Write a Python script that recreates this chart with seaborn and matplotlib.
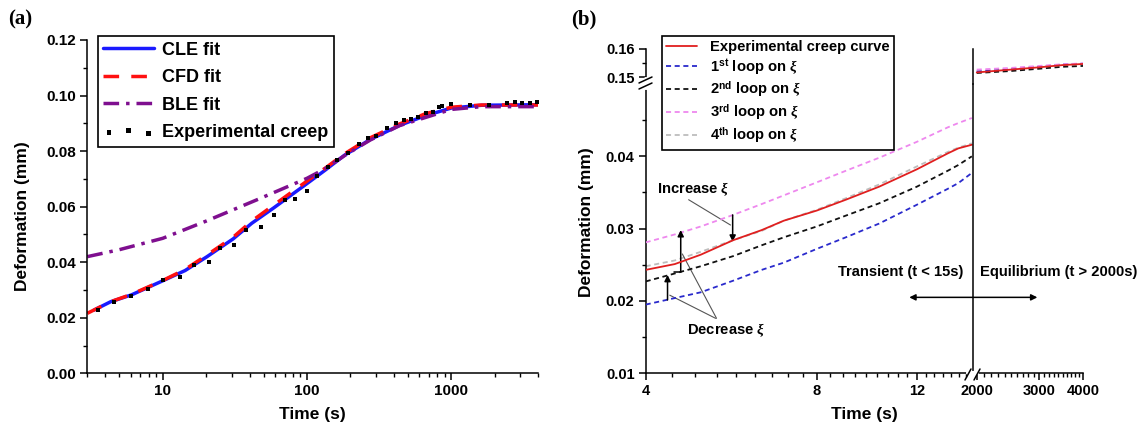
import matplotlib
matplotlib.use("Agg")
import matplotlib.pyplot as plt
from matplotlib.lines import Line2D
from matplotlib.patches import ConnectionPatch
from matplotlib.ticker import (FixedLocator, FixedFormatter, NullFormatter,
                               MultipleLocator, FormatStrFormatter, LogLocator)
import numpy as np
import seaborn as sns

# ---------------- panel (a): model fits of the creep curve ----------------
time_cle = [3.35, 4.37, 6.05, 10, 14.3, 20.3, 30.8, 41.4, 59, 100, 135, 182, 275, 440, 667, 1000, 1620, 4000]
def_cle = [0.0228, 0.0258, 0.0282, 0.0333, 0.0370, 0.0420, 0.0484, 0.0540, 0.0596, 0.0683, 0.0733,
           0.0785, 0.0842, 0.0893, 0.0928, 0.0955, 0.0965, 0.0967]

time_cfd = [3.0, 4.37, 6.05, 10, 14.3, 20.3, 30.8, 41.4, 59, 100, 135, 182, 275, 440, 667, 1000, 1620, 4000]
def_cfd = [0.0216, 0.0258, 0.0284, 0.0334, 0.0374, 0.0426, 0.0490, 0.0548, 0.0606, 0.0692, 0.0740,
           0.0790, 0.0848, 0.0898, 0.0935, 0.0958, 0.0966, 0.0966]

time_ble = [3.0, 5, 10, 20, 46.6, 100, 135, 190, 275, 440, 1000, 1620, 4000]
def_ble = [0.0420, 0.0445, 0.0486, 0.0548, 0.0628, 0.0702, 0.0738, 0.0790, 0.0840, 0.0892, 0.0950,
           0.0960, 0.0960]

time_exp = [3.55, 4.63, 6.05, 7.9, 10, 13.1, 16.5, 21, 25, 31, 38, 48, 59, 70, 82, 100, 117, 140,
            161, 193, 228, 267, 300, 358, 415, 470, 527, 593, 667, 750, 820, 870, 1000, 1360,
            1830, 2450, 2760, 3100, 3500, 3950]
def_exp = [0.0228, 0.0258, 0.0278, 0.0302, 0.0336, 0.0346, 0.0390, 0.0402, 0.0450, 0.0462, 0.0516,
           0.0528, 0.0570, 0.0624, 0.0626, 0.0658, 0.0710, 0.0742, 0.0768, 0.0792, 0.0826, 0.0846,
           0.0854, 0.0882, 0.0902, 0.0912, 0.0916, 0.0922, 0.0938, 0.0942, 0.0960, 0.0962, 0.0970,
           0.0966, 0.0966, 0.0974, 0.0978, 0.0972, 0.0974, 0.0976]

# ---------------- panel (b): iterations on xi ----------------
time_transient = [4.0, 4.5, 5.0, 5.7, 6.4, 7.0, 8.0, 9.0, 10.3, 12.0, 13.6, 14.2, 15.0]
exp_transient = [0.0243, 0.0251, 0.0264, 0.0284, 0.0298, 0.0311, 0.0325, 0.0340, 0.0358, 0.0382,
                 0.0404, 0.0411, 0.0416]
loop1_transient = [0.0195, 0.0204, 0.0212, 0.0228, 0.0243, 0.0253, 0.0272, 0.0288, 0.0307, 0.0333,
                   0.0355, 0.0363, 0.0377]
loop2_transient = [0.0227, 0.0238, 0.0248, 0.0262, 0.0277, 0.0288, 0.0303, 0.0318, 0.0335, 0.0358,
                   0.0380, 0.0388, 0.0400]
loop3_transient = [0.0281, 0.0292, 0.0303, 0.0319, 0.0334, 0.0346, 0.0364, 0.0380, 0.0398, 0.0420,
                   0.0440, 0.0446, 0.0453]
loop4_transient = [0.0248, 0.0256, 0.0268, 0.0284, 0.0297, 0.0311, 0.0326, 0.0342, 0.0361, 0.0386,
                   0.0406, 0.0412, 0.0418]

time_equilibrium = [2000, 2500, 3000, 3500, 4000]
exp_equilibrium = [0.1517, 0.1527, 0.1535, 0.1543, 0.1547]
loop1_equilibrium = [0.1520, 0.1528, 0.1537, 0.1545, 0.1548]
loop2_equilibrium = [0.1515, 0.1522, 0.1530, 0.1537, 0.1540]
loop3_equilibrium = [0.1527, 0.1533, 0.1540, 0.1546, 0.1549]
loop4_equilibrium = [0.1522, 0.1530, 0.1537, 0.1544, 0.1547]

loop_labels = ['Experimental creep curve',
               r'1$^{\mathrm{st}}$ loop on $\xi$',
               r'2$^{\mathrm{nd}}$ loop on $\xi$',
               r'3$^{\mathrm{rd}}$ loop on $\xi$',
               r'4$^{\mathrm{th}}$ loop on $\xi$']

# ---------------- style ----------------
sns.set_theme(style="ticks")
plt.rcParams.update({
    'font.weight': 'bold',
    'axes.labelweight': 'bold',
    'text.color': 'black',
    'axes.labelcolor': 'black',
    'axes.edgecolor': 'black',
    'xtick.color': 'black',
    'ytick.color': 'black',
    'axes.linewidth': 1.1,
    'mathtext.fontset': 'custom',
    'mathtext.rm': 'Liberation Sans:bold',
    'mathtext.bf': 'Liberation Sans:bold',
    'mathtext.it': 'Liberation Serif:italic',
})
plt.rcParams['font.family'] = ['Liberation Sans', 'DejaVu Sans']

W, H = 1147, 430
fig = plt.figure(figsize=(W / 100, H / 100), dpi=100)


def fx(px):
    return px / W


def fy(py):
    return 1 - py / H


def tick_style(ax, size):
    ax.tick_params(which='major', direction='out', length=5, width=1.1, labelsize=size, pad=3)
    ax.tick_params(which='minor', direction='out', length=3, width=1.0)


# ---------------- panel (a) ----------------
ax_a = fig.add_axes([fx(87.3), fy(373.3), fx(538) - fx(87.3), fy(40) - fy(373.3)])
ax_a.set_xscale('log')
sns.lineplot(x=time_cle, y=def_cle, ax=ax_a, color='#1a1aff', linewidth=2.5,
             label='CLE fit', legend=False)
sns.lineplot(x=time_cfd, y=def_cfd, ax=ax_a, color='#ff1010', linewidth=2.5,
             linestyle=(0, (4.5, 3.5)), label='CFD fit', legend=False)
sns.lineplot(x=time_ble, y=def_ble, ax=ax_a, color='#7f0f8f', linewidth=2.5,
             linestyle=(0, (4.5, 2, 1, 2)), label='BLE fit', legend=False)
sns.scatterplot(x=time_exp, y=def_exp, ax=ax_a, marker='s', s=7, color='black',
                linewidth=0, label='Experimental creep', legend=False, zorder=4)

ax_a.set_xlim(3, 4000)
ax_a.set_ylim(0, 0.12)
ax_a.xaxis.set_major_locator(FixedLocator([10, 100, 1000]))
ax_a.xaxis.set_major_formatter(FixedFormatter(['10', '100', '1000']))
ax_a.xaxis.set_minor_locator(LogLocator(base=10, subs=np.arange(2, 10)))
ax_a.xaxis.set_minor_formatter(NullFormatter())
ax_a.yaxis.set_major_locator(MultipleLocator(0.02))
ax_a.yaxis.set_minor_locator(MultipleLocator(0.01))
ax_a.yaxis.set_major_formatter(FormatStrFormatter('%.2f'))
ax_a.set_xlabel('')
ax_a.set_ylabel('')
tick_style(ax_a, 11)
sns.despine(ax=ax_a)

leg_a = ax_a.legend(loc='upper left', bbox_to_anchor=(fx(97.7), fy(36)),
                    bbox_transform=fig.transFigure, borderaxespad=0, fontsize=13,
                    handlelength=2.8, handletextpad=0.45, labelspacing=0.58, borderpad=0.32,
                    frameon=True, fancybox=False, edgecolor='black', framealpha=1,
                    scatterpoints=3, markerscale=1.3)
leg_a.get_frame().set_linewidth(1.2)

fig.text(fx(312.7), fy(414), 'Time (s)', ha='center', va='center', fontsize=12.5,
         fontweight='bold')
fig.text(fx(22), fy(216.5), 'Deformation (mm)', ha='center', va='center', rotation=90,
         fontsize=12.5, fontweight='bold')
fig.text(fx(8), fy(19), '(a)', ha='left', va='center', fontsize=15, fontweight='bold',
         family='Liberation Serif')

# ---------------- panel (b): broken axes ----------------
x_left, x_break, x_right = 645.7, 973.0, 1083.0
y_bottom, y_break, y_top = 373.3, 84.0, 49.0
w_l = fx(x_break) - fx(x_left)
w_r = fx(x_right) - fx(x_break)
h_lo = fy(y_break) - fy(y_bottom)
h_up = fy(y_top) - fy(y_break)

ll = fig.add_axes([fx(x_left), fy(y_bottom), w_l, h_lo])
lr = fig.add_axes([fx(x_break), fy(y_bottom), w_r, h_lo])
ul = fig.add_axes([fx(x_left), fy(y_break), w_l, h_up])
ur = fig.add_axes([fx(x_break), fy(y_break), w_r, h_up])
for ax in (ll, lr, ul, ur):
    ax.set_xscale('log')
    ax.patch.set_alpha(0)
    tick_style(ax, 10.5)

series_t = [exp_transient, loop1_transient, loop2_transient, loop3_transient, loop4_transient]
series_e = [exp_equilibrium, loop1_equilibrium, loop2_equilibrium, loop3_equilibrium,
            loop4_equilibrium]
colors = ['#e01f1f', '#2a2acc', '#111111', '#ee88ee', '#bdbdbd']
styles = ['-', (0, (2.8, 2.0)), (0, (2.8, 2.0)), (0, (2.8, 2.0)), (0, (2.8, 2.0))]
zorders = [5, 3, 3, 3, 2]
for vals_t, vals_e, col, ls, zo, lab in zip(series_t, series_e, colors, styles, zorders,
                                             loop_labels):
    sns.lineplot(x=time_transient, y=vals_t, ax=ll, color=col, linestyle=ls, linewidth=1.3,
                 label=lab, legend=False, zorder=zo)
    sns.lineplot(x=time_equilibrium, y=vals_e, ax=ur, color=col, linestyle=ls, linewidth=1.3,
                 legend=False, zorder=zo)

ll.set_xlim(4, 15.07)
ul.set_xlim(4, 15.07)
lr.set_xlim(1952, 4000)
ur.set_xlim(1952, 4000)
ll.set_ylim(0.01, 0.05)
lr.set_ylim(0.01, 0.05)
ul.set_ylim(0.1476, 0.16)
ur.set_ylim(0.1476, 0.16)

left_minor = [4 + k * 4 / 9 for k in range(1, 9)] + [8 + k * 4 / 9 for k in range(1, 9)] + \
             [12 + k * 4 / 9 for k in range(1, 7)]
ll.xaxis.set_major_locator(FixedLocator([4, 8, 12]))
ll.xaxis.set_major_formatter(FixedFormatter(['4', '8', '12']))
ll.xaxis.set_minor_locator(FixedLocator(left_minor))
ll.xaxis.set_minor_formatter(NullFormatter())
lr.xaxis.set_major_locator(FixedLocator([2000, 3000, 4000]))
lr.xaxis.set_major_formatter(FixedFormatter(['2000', '3000', '4000']))
lr.xaxis.set_minor_locator(FixedLocator([v for v in range(2100, 4000, 100) if v != 3000]))
lr.xaxis.set_minor_formatter(NullFormatter())

ll.yaxis.set_major_locator(FixedLocator([0.01, 0.02, 0.03, 0.04]))
ll.yaxis.set_minor_locator(FixedLocator([0.015, 0.025, 0.035, 0.045]))
ll.yaxis.set_major_formatter(FormatStrFormatter('%.2f'))
ul.yaxis.set_major_locator(FixedLocator([0.15, 0.16]))
ul.yaxis.set_minor_locator(FixedLocator([0.155]))
ul.yaxis.set_major_formatter(FormatStrFormatter('%.2f'))

for ax in (ll, lr, ul, ur):
    ax.set_xlabel('')
    ax.set_ylabel('')
    ax.spines['top'].set_visible(False)
    ax.spines['right'].set_visible(False)
for ax in (ul, ur):
    ax.spines['bottom'].set_visible(False)
    ax.tick_params(which='both', bottom=False, labelbottom=False)
for ax in (lr, ur):
    ax.tick_params(which='both', left=False, labelleft=False)

# annotations on the transient part
ll.text(4.19, 0.0354, r'Increase $\xi$', ha='left', va='center', fontsize=10.6)
ll.text(4.73, 0.0160, r'Decrease $\xi$', ha='left', va='center', fontsize=10.6)
ll.text(14.5, 0.02405, 'Transient (t < 15s)', ha='right', va='center', fontsize=10.6)
lr.text(2038, 0.02405, 'Equilibrium (t > 2000s)', ha='left', va='center', fontsize=10.6,
        clip_on=False)

arrow_kw = dict(arrowstyle='-|>', color='black', lw=1.1, mutation_scale=9, shrinkA=0, shrinkB=0)
ll.annotate('', xy=(5.69, 0.0282), xytext=(5.69, 0.0319), arrowprops=arrow_kw)
ll.annotate('', xy=(4.61, 0.0298), xytext=(4.61, 0.02405), arrowprops=arrow_kw)
ll.plot([4.49, 4.61], [0.02405, 0.02405], color='black', lw=1.1)
ll.annotate('', xy=(4.37, 0.0236), xytext=(4.37, 0.02014), arrowprops=arrow_kw)
ll.plot([4.76, 5.64], [0.0340, 0.0305], color='#555555', lw=0.8)
ll.plot([5.33, 4.64], [0.0176, 0.0265], color='#555555', lw=0.8)
ll.plot([5.31, 4.41], [0.0176, 0.0208], color='#555555', lw=0.8)

span = ConnectionPatch(xyA=(11.64, 0.0205), coordsA=ll.transData,
                       xyB=(2970, 0.0205), coordsB=lr.transData,
                       arrowstyle='<|-|>', color='black', lw=1.1, mutation_scale=9,
                       shrinkA=0, shrinkB=0)
fig.add_artist(span)

# break marks on both axes
fig.add_artist(Line2D([fx(x_left), fx(x_left)], [fy(78.5), fy(87.5)], color='white', lw=3))
for dy in (0, 6):
    fig.add_artist(Line2D([fx(639), fx(652)], [fy(83 + dy), fy(77 + dy)], color='black', lw=1.1))
fig.add_artist(Line2D([fx(968), fx(977)], [fy(y_bottom), fy(y_bottom)], color='white', lw=3))
for x0 in (965, 974):
    fig.add_artist(Line2D([fx(x0), fx(x0 + 6)], [fy(380), fy(369)], color='black', lw=1.1))

leg_b = fig.legend(*ll.get_legend_handles_labels(), loc='upper left',
                   bbox_to_anchor=(fx(661.7), fy(36)), bbox_transform=fig.transFigure,
                   borderaxespad=0, fontsize=10.6, handlelength=2.1, handletextpad=0.85,
                   labelspacing=0.18, borderpad=0.3, frameon=True, fancybox=False,
                   edgecolor='black', framealpha=1)
leg_b.get_frame().set_linewidth(1.2)

fig.text(fx(864), fy(414), 'Time (s)', ha='center', va='center', fontsize=12.5,
         fontweight='bold')
fig.text(fx(586), fy(222), 'Deformation (mm)', ha='center', va='center', rotation=90,
         fontsize=12.5, fontweight='bold')
fig.text(fx(571), fy(19), '(b)', ha='left', va='center', fontsize=15, fontweight='bold',
         family='Liberation Serif')

fig.savefig('out.png', dpi=100)
